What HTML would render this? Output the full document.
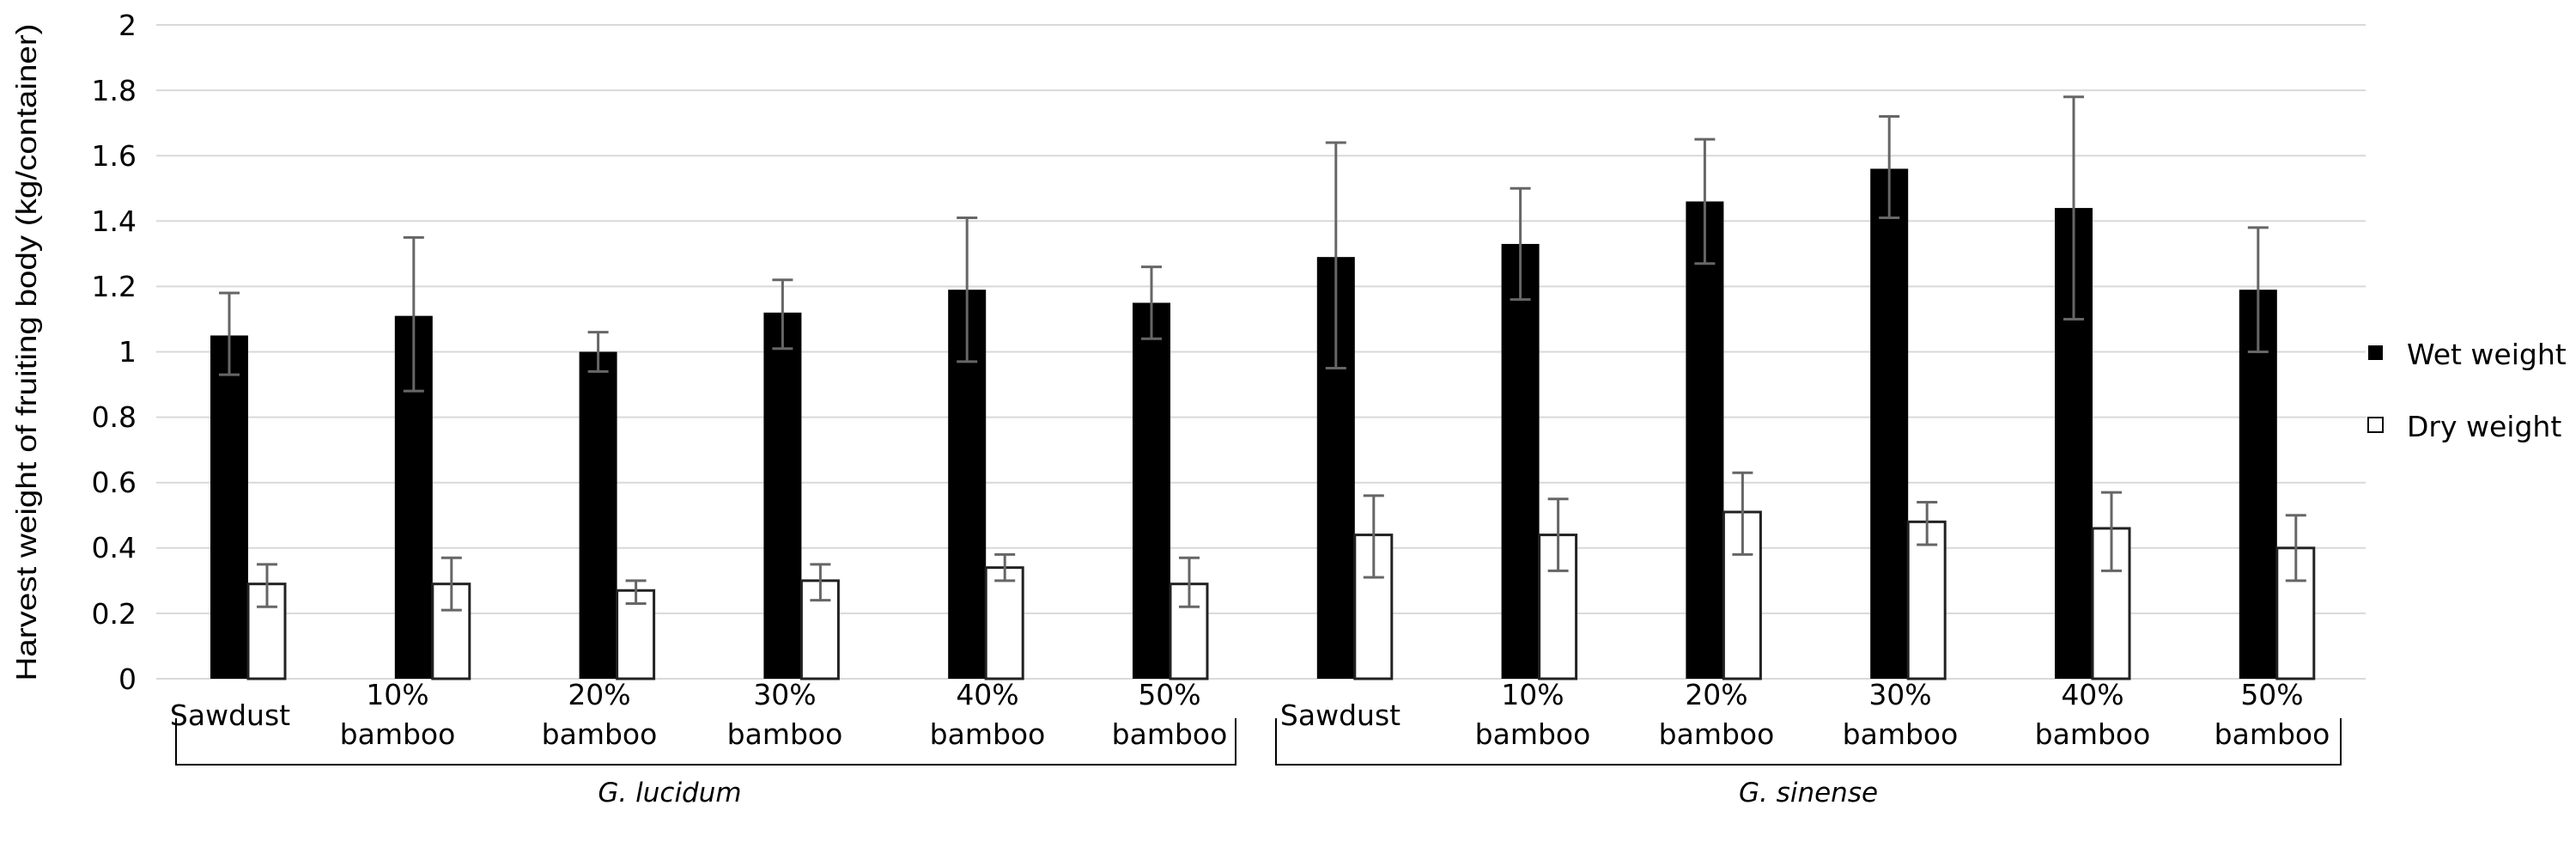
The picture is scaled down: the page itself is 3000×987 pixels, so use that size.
<!DOCTYPE html>
<html><head><meta charset="utf-8"><style>
html,body{margin:0;padding:0;background:#fff;}
svg{display:block;}
text{font-family:"DejaVu Sans","Liberation Sans",sans-serif;fill:#000;}
</style></head><body>
<svg id="c" width="3000" height="987" viewBox="0 0 3000 987" xmlns="http://www.w3.org/2000/svg">
<g id="grid" stroke="#d9d9d9" stroke-width="2"></g>
<g id="ylab" font-size="33" text-anchor="end">
<text x="159" y="41">2</text><text x="159" y="117">1.8</text><text x="159" y="193">1.6</text><text x="159" y="269">1.4</text><text x="159" y="345">1.2</text><text x="159" y="421">1</text><text x="159" y="497">0.8</text><text x="159" y="573">0.6</text><text x="159" y="649">0.4</text><text x="159" y="726">0.2</text><text x="159" y="802">0</text>
</g>
<text transform="translate(42,410) rotate(-90)" font-size="33" style="font-family:'Liberation Sans',sans-serif" text-anchor="middle" textLength="765" lengthAdjust="spacingAndGlyphs">Harvest weight of fruiting body (kg/container)</text>
<g id="bars"></g>
<g font-size="33" text-anchor="middle">
<text x="268" y="844">Sawdust</text>
<text x="463" y="820">10%</text><text x="463" y="866">bamboo</text>
<text x="698" y="820">20%</text><text x="698" y="866">bamboo</text>
<text x="914" y="820">30%</text><text x="914" y="866">bamboo</text>
<text x="1150" y="820">40%</text><text x="1150" y="866">bamboo</text>
<text x="1362" y="820">50%</text><text x="1362" y="866">bamboo</text>
<text x="1561" y="844">Sawdust</text>
<text x="1785" y="820">10%</text><text x="1785" y="866">bamboo</text>
<text x="1999" y="820">20%</text><text x="1999" y="866">bamboo</text>
<text x="2213" y="820">30%</text><text x="2213" y="866">bamboo</text>
<text x="2437" y="820">40%</text><text x="2437" y="866">bamboo</text>
<text x="2646" y="820">50%</text><text x="2646" y="866">bamboo</text>
</g>
<g stroke="#000" stroke-width="2" fill="none">
<polyline points="205,836 205,890 1439,890 1439,836"/>
<polyline points="1486,836 1486,890 2726,890 2726,836"/>
</g>
<g font-size="31" font-style="italic" text-anchor="middle">
<text x="780" y="933">G. lucidum</text>
<text x="2106" y="933">G. sinense</text>
</g>
<rect x="2758" y="402" width="17" height="17" fill="#000"/>
<rect x="2758" y="486" width="17" height="17" fill="#fff" stroke="#000" stroke-width="2"/>
<g font-size="33"><text x="2803" y="424">Wet weight</text><text x="2803" y="508">Dry weight</text></g>
</svg>
<script>
var NS="http://www.w3.org/2000/svg";
var y0=790,u=380.5;
function Y(v){return y0-v*u;}
var g=document.getElementById('grid');
for(var i=0;i<=10;i++){var l=document.createElementNS(NS,'line');var y=Y(i*0.2);
l.setAttribute('x1',182);l.setAttribute('x2',2755);l.setAttribute('y1',y);l.setAttribute('y2',y);g.appendChild(l);}
var d=[[1.05,1.18,0.93,0.29,0.35,0.22],[1.11,1.35,0.88,0.29,0.37,0.21],[1.0,1.06,0.94,0.27,0.30,0.23],[1.12,1.22,1.01,0.30,0.35,0.24],[1.19,1.41,0.97,0.34,0.38,0.30],[1.15,1.26,1.04,0.29,0.37,0.22],[1.29,1.64,0.95,0.44,0.56,0.31],[1.33,1.50,1.16,0.44,0.55,0.33],[1.46,1.65,1.27,0.51,0.63,0.38],[1.56,1.72,1.41,0.48,0.54,0.41],[1.44,1.78,1.10,0.46,0.57,0.33],[1.19,1.38,1.00,0.40,0.50,0.30]];
var b=document.getElementById('bars');
function el(t,a){var e=document.createElementNS(NS,t);for(var k in a)e.setAttribute(k,a[k]);b.appendChild(e);}
function err(x,hi,lo){el('line',{x1:x,x2:x,y1:Y(hi),y2:Y(lo),stroke:'#666',"stroke-width":3});
el('line',{x1:x-12,x2:x+12,y1:Y(hi),y2:Y(hi),stroke:'#666',"stroke-width":3});
el('line',{x1:x-12,x2:x+12,y1:Y(lo),y2:Y(lo),stroke:'#666',"stroke-width":3});}
for(var i=0;i<12;i++){var c=289+i*214.8;var r=d[i];
el('rect',{x:c-44,y:Y(r[0]),width:44,height:Y(0)-Y(r[0]),fill:'#000'});
el('rect',{x:c,y:Y(r[3]),width:43,height:Y(0)-Y(r[3]),fill:'#fff',stroke:'#222',"stroke-width":3});
err(c-22,r[1],r[2]);err(c+22,r[4],r[5]);}
</script>
</body></html>
